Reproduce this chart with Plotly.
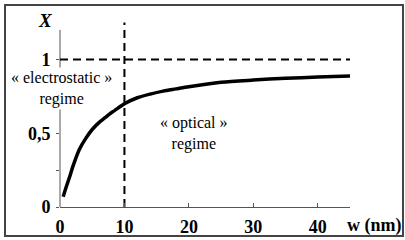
import plotly.graph_objects as go

w_nm = [0.5, 1, 1.5, 2, 3, 4, 5, 6, 7, 8, 9, 10, 12, 14, 16, 18, 20, 25, 30, 35, 40, 45]
X_vals = [0.07, 0.14, 0.205, 0.275, 0.39, 0.465, 0.525, 0.57, 0.605, 0.64, 0.67, 0.70,
          0.74, 0.765, 0.785, 0.80, 0.815, 0.845, 0.86, 0.872, 0.88, 0.887]

x_ticks = [0, 10, 20, 30, 40]
x_ticktext = ["0", "10", "20", "30", "40"]
y_ticks = [0, 0.25, 0.5, 0.75, 1]
y_ticktext = ["0", "", "0,5", "", "1"]

w_limit = 10
X_limit = 1
X_axis_top = 1.2

SERIF = "Liberation Serif"

fig = go.Figure()
fig.add_trace(go.Scatter(x=w_nm, y=X_vals, mode="lines",
                         line=dict(color="black", width=3.5, shape="spline", smoothing=0.8),
                         hoverinfo="skip", showlegend=False))
fig.add_trace(go.Scatter(x=[0, 45], y=[X_limit, X_limit], mode="lines",
                         line=dict(color="black", width=2, dash="8px,5px"),
                         showlegend=False, hoverinfo="skip"))
fig.add_trace(go.Scatter(x=[w_limit, w_limit], y=[0, 1.25], mode="lines",
                         line=dict(color="black", width=2, dash="8px,5px"),
                         showlegend=False, hoverinfo="skip"))

fig.update_layout(
    template="none",
    width=405, height=240,
    margin=dict(l=60, r=55, t=21, b=33, autoexpand=False),
    paper_bgcolor="white", plot_bgcolor="white",
    font=dict(family=SERIF, color="black"),
    xaxis=dict(range=[0, 45], showgrid=False, zeroline=False, showline=True,
               linecolor="#555", linewidth=1, ticks="inside", ticklen=4,
               tickcolor="#555", tickvals=x_ticks, ticktext=x_ticktext,
               tickfont=dict(size=18, family=SERIF, weight="bold"),
               ticklabelstandoff=3, automargin=False),
    yaxis=dict(range=[0, 1.26], showgrid=False, zeroline=False, showline=False,
               ticks="outside", ticklen=3,
               tickcolor="#555", tickvals=y_ticks, ticktext=y_ticktext,
               tickfont=dict(size=18, family=SERIF, weight="bold"),
               ticklabelstandoff=2, automargin=False),
    shapes=[
        dict(type="line", xref="paper", yref="y", x0=0, x1=0, y0=0, y1=X_axis_top,
             line=dict(color="#555", width=1), layer="below"),
        dict(type="rect", xref="paper", yref="paper",
             x0=(5 - 60) / 290, x1=(403 - 60) / 290,
             y0=(207 - 236) / 186, y1=(207 - 5) / 186,
             line=dict(color="#444", width=2), layer="above"),
    ],
    annotations=[
        dict(text="« electrostatic »<br>regime", xref="paper", yref="paper",
             x=(61 - 60) / 290, y=(207 - 88) / 186, showarrow=False,
             font=dict(size=16, family=SERIF), bgcolor="white",
             xanchor="center", yanchor="middle"),
        dict(text="« optical »<br>regime", x=20.8, y=0.5, showarrow=False,
             font=dict(size=16, family=SERIF), xanchor="center", yanchor="middle"),
        dict(text="<b><i>X</i></b>", xref="paper", yref="paper",
             x=(45 - 60) / 290, y=(207 - 20) / 186, showarrow=False,
             font=dict(size=19, family=SERIF), xanchor="center", yanchor="middle"),
        dict(text="<b>w (nm)</b>", xref="paper", yref="paper",
             x=(374 - 60) / 290, y=(207 - 226) / 186, showarrow=False,
             font=dict(size=18, family=SERIF), xanchor="center", yanchor="middle"),
    ],
)

fig.write_html("out.html", config={"displayModeBar": False},
               post_script="document.body.style.margin='0';document.body.style.padding='0';")
